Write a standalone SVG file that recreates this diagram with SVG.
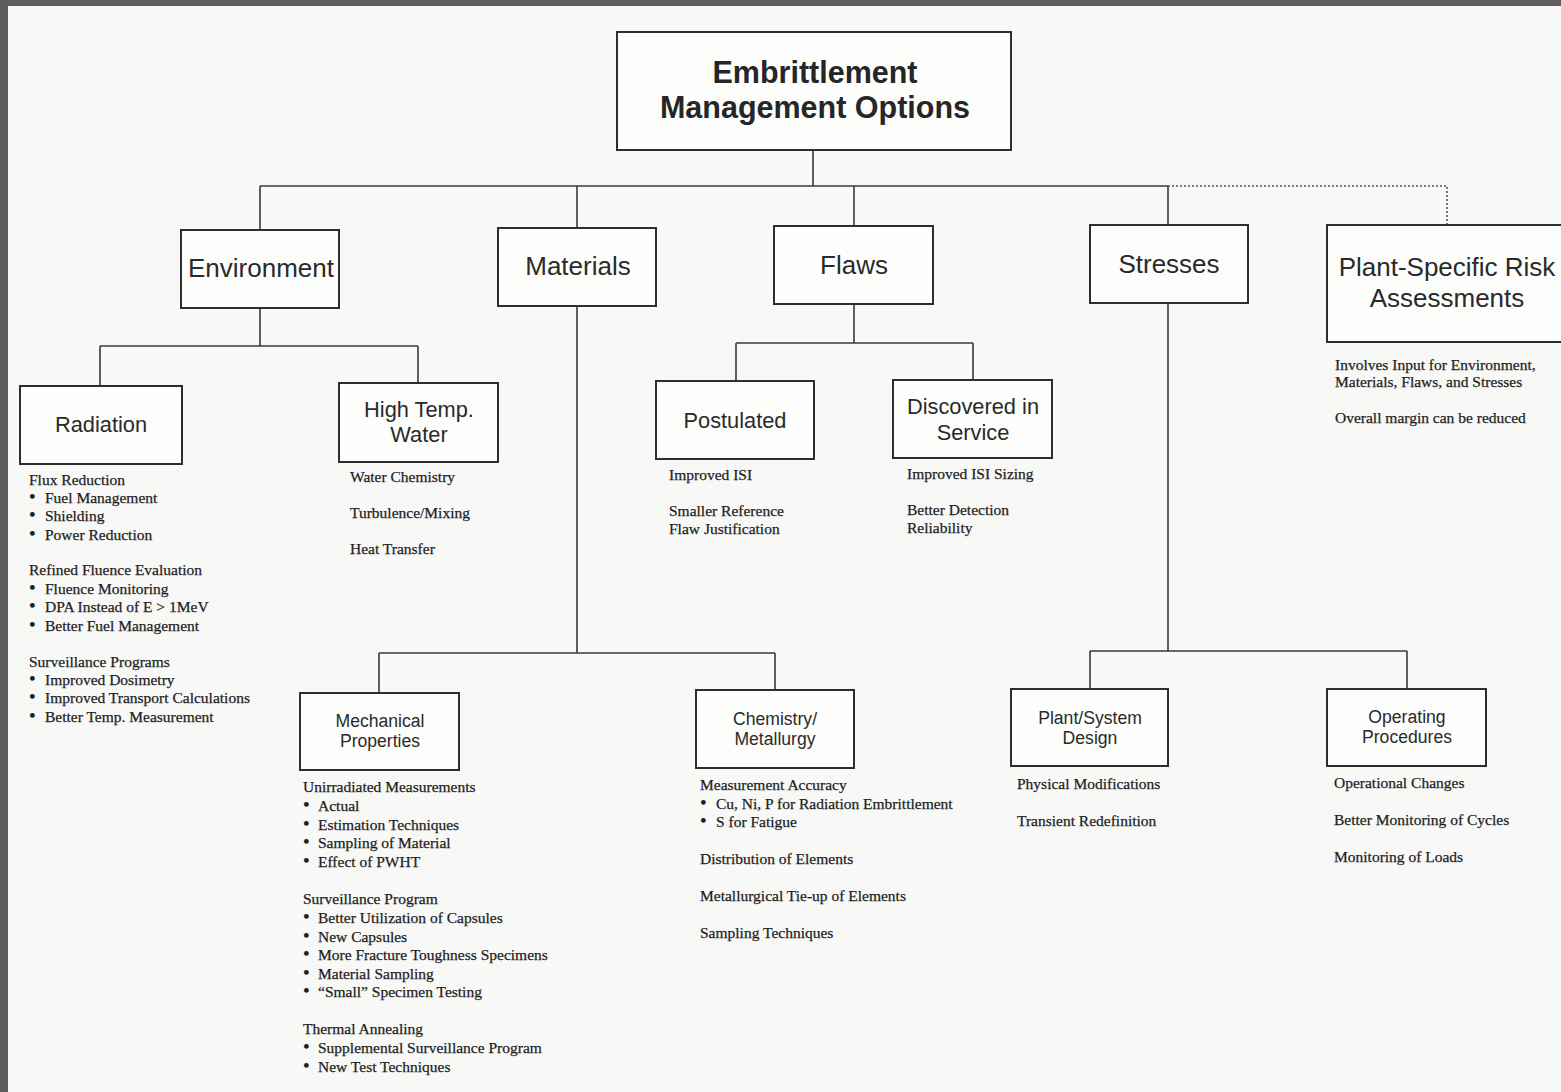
<svg xmlns="http://www.w3.org/2000/svg" width="1561" height="1092" viewBox="0 0 1561 1092">
<style>
.box{fill:#fdfdfc;stroke:#2e2e2e;stroke-width:2}
.ln{fill:none;stroke:#3a3a3a;stroke-width:1.6}
.dot{fill:none;stroke:#555;stroke-width:1.6;stroke-dasharray:2 2}
.t1{font-family:"Liberation Sans",Arial,sans-serif;font-size:26px;fill:#2a2a2a;text-anchor:middle}
.t0{font-family:"Liberation Sans",Arial,sans-serif;font-size:30.5px;font-weight:bold;fill:#262626;text-anchor:middle}
.t2{font-family:"Liberation Sans",Arial,sans-serif;font-size:21.8px;fill:#2a2a2a;text-anchor:middle}
.t3{font-family:"Liberation Sans",Arial,sans-serif;font-size:17.6px;fill:#2a2a2a;text-anchor:middle}
.b{font-family:"Liberation Serif","Times New Roman",serif;font-size:15.5px;fill:#1e1e1e;stroke:#1e1e1e;stroke-width:0.25}
.k{font-size:19px}
</style>
<rect x="0" y="0" width="1561" height="1092" fill="#f8f8f7"/>
<rect x="0" y="0" width="1561" height="6" fill="#5f5e5c"/>
<rect x="0" y="0" width="8" height="1092" fill="#5f5e5c"/>

<g id="connectors">
<path class="ln" d="M813,150V186M260,186H1168M260,186V230M577,186V228M854,186V226M1168,186V225"/>
<path class="dot" d="M1168,186H1447V225"/>
<path class="ln" d="M260,308V346M100,346H418M100,346V386M418,346V383"/>
<path class="ln" d="M577,306V653M379,653H775M379,653V693M775,653V690"/>
<path class="ln" d="M854,304V343M736,343H973M736,343V381M973,343V380"/>
<path class="ln" d="M1168,303V651M1090,651H1407M1090,651V689M1407,651V689"/>
</g>

<g id="root">
<rect class="box" x="617" y="32" width="394" height="118"/>
<text class="t0" x="815" y="83">Embrittlement</text>
<text class="t0" x="815" y="118">Management Options</text>
</g>

<g id="environment">
<rect class="box" x="181" y="230" width="158" height="78"/>
<text class="t1" x="261" y="277">Environment</text>
</g>
<g id="materials">
<rect class="box" x="498" y="228" width="158" height="78"/>
<text class="t1" x="578" y="275">Materials</text>
</g>
<g id="flaws">
<rect class="box" x="774" y="226" width="159" height="78"/>
<text class="t1" x="854" y="274">Flaws</text>
</g>
<g id="stresses">
<rect class="box" x="1090" y="225" width="158" height="78"/>
<text class="t1" x="1169" y="273">Stresses</text>
</g>
<g id="plant-specific">
<rect class="box" x="1327" y="225" width="245" height="117"/>
<text class="t1" x="1447" y="276">Plant-Specific Risk</text>
<text class="t1" x="1447" y="307">Assessments</text>
<text class="b" x="1335" y="370">Involves Input for Environment,</text>
<text class="b" x="1335" y="387">Materials, Flaws, and Stresses</text>
<text class="b" x="1335" y="423">Overall margin can be reduced</text>
</g>

<g id="radiation">
<rect class="box" x="20" y="386" width="162" height="78"/>
<text class="t2" x="101" y="432">Radiation</text>
<text class="b" x="29" y="485">Flux Reduction</text>
<text class="b" y="503"><tspan class="k" x="29">•</tspan><tspan x="45">Fuel Management</tspan></text>
<text class="b" y="521"><tspan class="k" x="29">•</tspan><tspan x="45">Shielding</tspan></text>
<text class="b" y="540"><tspan class="k" x="29">•</tspan><tspan x="45">Power Reduction</tspan></text>
<text class="b" x="29" y="575">Refined Fluence Evaluation</text>
<text class="b" y="594"><tspan class="k" x="29">•</tspan><tspan x="45">Fluence Monitoring</tspan></text>
<text class="b" y="612"><tspan class="k" x="29">•</tspan><tspan x="45">DPA Instead of E &gt; 1MeV</tspan></text>
<text class="b" y="631"><tspan class="k" x="29">•</tspan><tspan x="45">Better Fuel Management</tspan></text>
<text class="b" x="29" y="667">Surveillance Programs</text>
<text class="b" y="685"><tspan class="k" x="29">•</tspan><tspan x="45">Improved Dosimetry</tspan></text>
<text class="b" y="703"><tspan class="k" x="29">•</tspan><tspan x="45">Improved Transport Calculations</tspan></text>
<text class="b" y="722"><tspan class="k" x="29">•</tspan><tspan x="45">Better Temp. Measurement</tspan></text>
</g>

<g id="high-temp-water">
<rect class="box" x="339" y="383" width="159" height="79"/>
<text class="t2" x="419" y="417">High Temp.</text>
<text class="t2" x="419" y="442">Water</text>
<text class="b" x="350" y="482">Water Chemistry</text>
<text class="b" x="350" y="518">Turbulence/Mixing</text>
<text class="b" x="350" y="554">Heat Transfer</text>
</g>

<g id="postulated">
<rect class="box" x="656" y="381" width="158" height="78"/>
<text class="t2" x="735" y="428">Postulated</text>
<text class="b" x="669" y="480">Improved ISI</text>
<text class="b" x="669" y="516">Smaller Reference</text>
<text class="b" x="669" y="534">Flaw Justification</text>
</g>

<g id="discovered">
<rect class="box" x="893" y="380" width="159" height="78"/>
<text class="t2" x="973" y="414">Discovered in</text>
<text class="t2" x="973" y="440">Service</text>
<text class="b" x="907" y="479">Improved ISI Sizing</text>
<text class="b" x="907" y="515">Better Detection</text>
<text class="b" x="907" y="533">Reliability</text>
</g>

<g id="mechanical-properties">
<rect class="box" x="300" y="693" width="159" height="77"/>
<text class="t3" x="380" y="727">Mechanical</text>
<text class="t3" x="380" y="747">Properties</text>
<text class="b" x="303" y="792">Unirradiated Measurements</text>
<text class="b" y="811"><tspan class="k" x="303">•</tspan><tspan x="318">Actual</tspan></text>
<text class="b" y="830"><tspan class="k" x="303">•</tspan><tspan x="318">Estimation Techniques</tspan></text>
<text class="b" y="848"><tspan class="k" x="303">•</tspan><tspan x="318">Sampling of Material</tspan></text>
<text class="b" y="867"><tspan class="k" x="303">•</tspan><tspan x="318">Effect of PWHT</tspan></text>
<text class="b" x="303" y="904">Surveillance Program</text>
<text class="b" y="923"><tspan class="k" x="303">•</tspan><tspan x="318">Better Utilization of Capsules</tspan></text>
<text class="b" y="942"><tspan class="k" x="303">•</tspan><tspan x="318">New Capsules</tspan></text>
<text class="b" y="960"><tspan class="k" x="303">•</tspan><tspan x="318">More Fracture Toughness Specimens</tspan></text>
<text class="b" y="979"><tspan class="k" x="303">•</tspan><tspan x="318">Material Sampling</tspan></text>
<text class="b" y="997"><tspan class="k" x="303">•</tspan><tspan x="318">“Small” Specimen Testing</tspan></text>
<text class="b" x="303" y="1034">Thermal Annealing</text>
<text class="b" y="1053"><tspan class="k" x="303">•</tspan><tspan x="318">Supplemental Surveillance Program</tspan></text>
<text class="b" y="1072"><tspan class="k" x="303">•</tspan><tspan x="318">New Test Techniques</tspan></text>
</g>

<g id="chemistry-metallurgy">
<rect class="box" x="696" y="690" width="158" height="78"/>
<text class="t3" x="775" y="725">Chemistry/</text>
<text class="t3" x="775" y="745">Metallurgy</text>
<text class="b" x="700" y="790">Measurement Accuracy</text>
<text class="b" y="809"><tspan class="k" x="700">•</tspan><tspan x="716">Cu, Ni, P for Radiation Embrittlement</tspan></text>
<text class="b" y="827"><tspan class="k" x="700">•</tspan><tspan x="716">S for Fatigue</tspan></text>
<text class="b" x="700" y="864">Distribution of Elements</text>
<text class="b" x="700" y="901">Metallurgical Tie-up of Elements</text>
<text class="b" x="700" y="938">Sampling Techniques</text>
</g>

<g id="plant-system-design">
<rect class="box" x="1011" y="689" width="157" height="77"/>
<text class="t3" x="1090" y="724">Plant/System</text>
<text class="t3" x="1090" y="744">Design</text>
<text class="b" x="1017" y="789">Physical Modifications</text>
<text class="b" x="1017" y="826">Transient Redefinition</text>
</g>

<g id="operating-procedures">
<rect class="box" x="1327" y="689" width="159" height="77"/>
<text class="t3" x="1407" y="723">Operating</text>
<text class="t3" x="1407" y="743">Procedures</text>
<text class="b" x="1334" y="788">Operational Changes</text>
<text class="b" x="1334" y="825">Better Monitoring of Cycles</text>
<text class="b" x="1334" y="862">Monitoring of Loads</text>
</g>
</svg>
